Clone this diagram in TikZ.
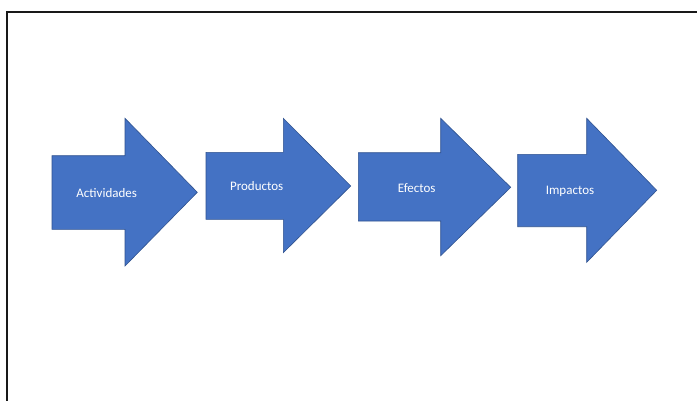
\documentclass[tikz,border=0pt]{standalone}
\usepackage{fontspec}
\setmainfont{Carlito}
\definecolor{arrowblue}{HTML}{4472C4}
\definecolor{arrowedge}{HTML}{2F528F}
\begin{document}
\begin{tikzpicture}[x=1pt,y=-1pt,
  blockarrow/.style={fill=arrowblue,draw=arrowedge,line width=0.6pt,line join=miter},
  label/.style={text=white,font=\fontsize{13}{15}\selectfont,inner sep=0pt}]
\useasboundingbox (0,0) rectangle (697,400);
\fill[white] (0,0) rectangle (697,400);
\draw[line width=2pt,color=black!90] (6.5,401) -- (6.5,11.5) -- (698,11.5);
% arrow 1
\draw[blockarrow] (52,155.7) -- (125,155.7) -- (125,118.3) -- (197.3,192.3) -- (125,266) -- (125,229.3) -- (52,229.3) -- cycle;
\node[label] (act) at (106.7,193) {Actividades};
% arrow 2
\draw[blockarrow] (206,152.3) -- (283.3,152.3) -- (283.3,118.3) -- (350.7,186) -- (283.3,252.7) -- (283.3,219.3) -- (206,219.3) -- cycle;
\node[label] (prod) at (256.7,186) {Productos};
% arrow 3
\draw[blockarrow] (358.3,152.7) -- (440.7,152.7) -- (440.7,118.3) -- (510.7,187.3) -- (440.7,255.7) -- (440.7,221) -- (358.3,221) -- cycle;
\node[label] (efe) at (416.7,188) {Efectos};
% arrow 4
\draw[blockarrow] (517.7,154.3) -- (586.7,154.3) -- (586.7,118.3) -- (656.7,190.3) -- (586.7,262.3) -- (586.7,226.7) -- (517.7,226.7) -- cycle;
\node[label] (imp) at (570,191) {Impactos};
\end{tikzpicture}
\end{document}
